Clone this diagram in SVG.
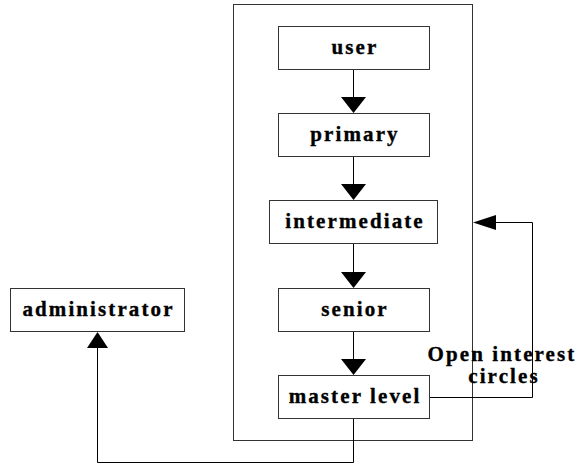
<svg xmlns="http://www.w3.org/2000/svg" width="577" height="466" viewBox="0 0 577 466">
<defs>
<style>
.box{fill:#fff;stroke:#333;stroke-width:1}
.frame{fill:none;stroke:#333;stroke-width:1}
.lbl{font-family:"Liberation Serif","Times New Roman",serif;font-weight:bold;font-size:21px;letter-spacing:2.1px;text-anchor:middle;fill:#000;stroke:#000;stroke-width:0.35px}
.conn{fill:none;stroke:#000;stroke-width:1}
.ah{fill:#000;stroke:none}
</style>
</defs>
<rect width="577" height="466" fill="#fff"/>
<rect class="frame" x="233.5" y="4.5" width="239" height="436"/>
<g id="connectors">
<line class="conn" x1="353.5" y1="69" x2="353.5" y2="97"/>
<polygon class="ah" points="341,97 366,97 353.5,113"/>
<line class="conn" x1="353.5" y1="157" x2="353.5" y2="184"/>
<polygon class="ah" points="341,184 366,184 353.5,200"/>
<line class="conn" x1="353.5" y1="244" x2="353.5" y2="272"/>
<polygon class="ah" points="341,272 366,272 353.5,288"/>
<line class="conn" x1="353.5" y1="332" x2="353.5" y2="359"/>
<polygon class="ah" points="341,359 366,359 353.5,375"/>
<polyline class="conn" points="429,397.5 532.5,397.5 532.5,222.5 496,222.5"/>
<polygon class="ah" points="473,222.5 496,215 496,230"/>
<polyline class="conn" points="353.5,419 353.5,462.5 97.5,462.5 97.5,348"/>
<polygon class="ah" points="97.5,332 87,348 108,348"/>
</g>
<g id="user"><rect class="box" x="278.5" y="26.5" width="151" height="43"/><text class="lbl" x="355" y="54">user</text></g>
<g id="primary"><rect class="box" x="278.5" y="113.5" width="151" height="43"/><text class="lbl" x="355" y="141">primary</text></g>
<g id="intermediate"><rect class="box" x="269.5" y="200.5" width="168" height="43"/><text class="lbl" x="355" y="228">intermediate</text></g>
<g id="senior"><rect class="box" x="278.5" y="288.5" width="151" height="43"/><text class="lbl" x="355" y="316">senior</text></g>
<g id="master"><rect class="box" x="278.5" y="375.5" width="151" height="43"/><text class="lbl" x="355" y="403">master level</text></g>
<g id="administrator"><rect class="box" x="10.5" y="288.5" width="174" height="43"/><text class="lbl" x="98.5" y="316">administrator</text></g>
<g id="open-interest-label"><text class="lbl" x="502" y="361">Open interest</text><text class="lbl" x="504" y="383">circles</text></g>
</svg>
